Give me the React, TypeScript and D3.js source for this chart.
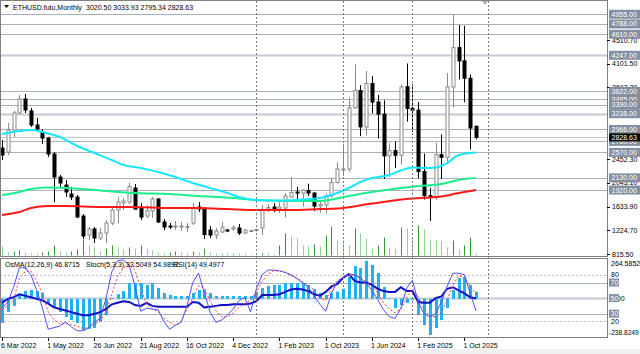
import React from 'react'
import * as d3 from 'd3'

// monthly/weekly OHLC (index 0 = 6 Mar 2022)
const opens = [2646, 2576, 2956, 3250, 3492, 3285, 3043, 2922, 2818, 2542, 2145, 2006, 1851, 1799, 1471, 1143, 1247, 1091, 1178, 1350,
  1575, 1696, 1713, 1955, 1609, 1471, 1560, 1765, 1368, 1298, 1298, 1290, 1281, 1350, 1627, 1592, 1229, 1143, 1195, 1230,
  1247, 1264, 1178, 1212, 1220, 1264, 1592, 1627, 1592, 1609, 1799, 1886, 1868, 1911, 1868, 1644, 1661, 1817, 2050, 2282,
  2283, 3340, 3640, 3010, 3760, 3440, 3230, 2510, 2600, 2520, 3705, 3330, 3300, 2237, 1822, 1794, 2530, 2485, 3700, 4380,
  4150, 3850, 3020.5]
const highs = [2784, 3077, 3285, 3561, 3578, 3336, 3164, 2974, 2836, 2576, 2179, 2093, 1972, 1834, 1506, 1281, 1281, 1264, 1402, 1627,
  1799, 1782, 2041, 2024, 1696, 1661, 1799, 1782, 1419, 1350, 1385, 1368, 1350, 1696, 1713, 1627, 1298, 1264, 1368, 1250,
  1316, 1333, 1247, 1238, 1255, 1661, 1678, 1696, 1747, 1868, 2145, 1972, 1930, 2030, 1886, 1740, 1860, 2135, 2400, 2717,
  3520, 4090, 3730, 3975, 3890, 3560, 3470, 2730, 2760, 3740, 4105, 3745, 3440, 2550, 1955, 2738, 2880, 3940, 4955, 4770,
  4755, 3915, 3033.93]
const lows = [2438, 2525, 2836, 3233, 3250, 3008, 2939, 2715, 2490, 1713, 1972, 1799, 1747, 1437, 1074, 1057, 1005, 1057, 1005, 1316,
  1350, 1575, 1678, 1609, 1402, 1437, 1437, 1350, 1229, 1247, 1229, 1212, 1195, 1316, 1540, 1074, 1091, 1074, 1178, 1195,
  1212, 1143, 1160, 1195, 1203, 1143, 1540, 1540, 1523, 1450, 1782, 1765, 1630, 1817, 1557, 1530, 1520, 1790, 2030, 2165,
  2235, 3325, 2850, 2865, 3240, 2810, 2110, 2150, 2300, 2360, 3100, 2920, 2120, 1755, 1385, 1750, 2110, 2375, 3350, 3830,
  3435, 2620, 2795.34]
const closes = [2525, 2956, 3250, 3492, 3302, 3043, 2974, 2818, 2542, 2145, 2041, 1886, 1799, 1454, 1126, 1247, 1091, 1178, 1350, 1575,
  1713, 1730, 1980, 1590, 1454, 1560, 1765, 1368, 1281, 1290, 1300, 1298, 1290, 1600, 1592, 1150, 1143, 1212, 1281, 1222,
  1272, 1178, 1229, 1220, 1238, 1575, 1618, 1592, 1627, 1817, 1877, 1868, 1920, 1868, 1644, 1671, 1817, 2050, 2282, 2283,
  3340, 3640, 3010, 3760, 3440, 3230, 2510, 2600, 2520, 3700, 3330, 3300, 2237, 1822, 1794, 2530, 2485, 3700, 4380, 4150,
  3850, 2990, 2828.63]
const volumes = [9, 3, 4, 5, 3, 2, 2, 3, 4, 10, 4, 3, 4, 6, 16, 10, 8, 4, 7, 10,
  8, 6, 8, 7, 10, 7, 5, 3, 2, 3, 4, 3, 2, 4, 3, 7, 3, 2, 2, 2,
  2, 2, 2, 1, 1, 2, 2, 1, 10, 22, 19, 17, 10, 9, 11, 9, 20, 29, 15, 15,
  10, 27, 22, 17, 7, 10, 18, 8, 7, 28, 27, 18, 30, 26, 16, 15, 15, 8, 15, 6,
  10, 18, 2]

// moving averages, read at selected bars
const cyanIdx = [0, 3, 5, 7, 10, 13, 16, 19, 21, 24, 27, 30, 33, 36, 39, 41, 44, 48, 52, 55, 57, 60, 62, 64, 67, 69, 71, 73, 75, 77, 79, 82]
const cyanVal = [2887, 2939, 2956, 2922, 2835, 2680, 2559, 2438, 2352, 2300, 2231, 2145, 2041, 1955, 1868, 1799, 1748, 1739, 1756, 1782, 1834, 1955, 2058, 2127, 2179, 2257, 2309, 2300, 2309, 2386, 2525, 2570]
const greenIdx = [0, 3, 5, 8, 11, 17, 23, 29, 34, 40, 44, 50, 55, 60, 64, 69, 72, 76, 79, 82]
const greenVal = [1834, 1886, 1937, 1963, 1955, 1911, 1868, 1851, 1817, 1782, 1748, 1730, 1730, 1817, 1886, 1955, 1989, 2024, 2093, 2130]
const redIdx = [0, 3, 5, 8, 11, 17, 23, 29, 34, 39, 44, 50, 55, 58, 64, 70, 76, 79, 82]
const redVal = [1488, 1540, 1609, 1644, 1644, 1627, 1627, 1609, 1609, 1592, 1575, 1575, 1592, 1601, 1687, 1765, 1808, 1868, 1920]

// oscillators
const osma = [-159, -87, -47, 25, 51, 58, 51, 38, -28, -61, -87, -120, -140, -159, -206, -199, -193, -153, -110, 5,
  30, 50, 104, 104, 104, 91, 104, 71, 38, 25, 18, 18, 18, 38, 58, 58, 38, 18, 18, 18,
  18, 18, 18, 18, 45, 71, 84, 91, 91, 104, 104, 104, 104, 91, 65, 38, 25, 38, 47, 65,
  144, 216, 203, 250, 223, 170, 78, 5, -61, -41, -28, -8, -107, -173, -238, -193, -140, -61, 58, 137,
  144, 91, 46.87]
const stochMain = [37, 45, 64, 89, 89, 80, 60, 37, 10, 12, 14, 19, 13, 8, 8, 12, 19, 24, 50, 84,
  98, 99, 92, 66, 33, 37, 36, 35, 20, 10, 15, 19, 40, 70, 82, 57, 32, 19, 22, 28,
  36, 47, 51, 32, 62, 80, 86, 86, 85, 83, 80, 75, 70, 64, 53, 42, 33, 56, 71, 77,
  81, 80, 76, 69, 60, 48, 35, 26, 24, 37, 63, 73, 45, 30, 26, 30, 45, 65, 82, 82,
  80, 56, 33.5]
const stochSignal = [35, 40, 48, 75, 84, 85, 72, 56, 32, 22, 17, 18, 16, 14, 11, 12, 16, 21, 33, 55,
  78, 89, 93, 86, 62, 42, 36, 33, 24, 19, 15, 20, 35, 50, 66, 63, 46, 34, 26, 26,
  31, 38, 43, 47, 58, 71, 81, 85, 85, 83, 79, 76, 71, 66, 61, 50, 47, 62, 72, 77,
  79, 79, 76, 71, 65, 57, 44, 36, 31, 36, 50, 62, 52, 36, 26, 26, 31, 47, 66, 79,
  76, 65, 55]
const rsi = [44, 49, 51, 55, 53, 51, 49, 47, 43, 38, 36, 34, 32, 30, 28, 28, 30, 32, 36, 42,
  44, 46, 45, 41, 40, 44, 40, 39, 39, 39, 39, 39, 39, 45, 44, 38, 39, 40, 41, 41,
  42, 42, 42, 43, 46, 54, 54, 54, 55, 58, 61, 62, 61, 59, 55, 53, 58, 65, 68, 76,
  81, 72, 70, 70, 67, 62, 59, 58, 58, 64, 59, 59, 45, 44, 44, 50, 52, 62, 64, 60,
  56, 51, 49.5]

const levels = [4955, 4788, 4610, 4247, 3622, 3485, 3390, 3238, 2966, 2760, 2570, 2130, 1920]
const thickLevels = [4247, 3238]
const priceTicks = [4510.7, 4101.5, 3692.3, 2452.3, 2043.1, 1633.9, 1224.7, 815.5]
const timeIdx = [0, 8, 16, 24, 32, 40, 48, 56, 64, 72, 80]
const timeText = ['6 Mar 2022', '1 May 2022', '26 Jun 2022', '21 Aug 2022', '16 Oct 2022', '4 Dec 2022', '1 Feb 2023', '1 Oct 2023', '1 Jun 2024', '1 Feb 2025', '1 Oct 2025']
const separatorIdx = [44, 59, 71, 84]
const lastPrice = 2828.63

const font = 'Liberation Sans, Arial, sans-serif'
const W = 640
const H = 354

export default function App() {
  const x = d3.scaleLinear().domain([0, 82]).range([2, 476])
  const y = d3.scaleLinear().domain([815.5, 4510.7]).range([254, 40])
  const yVol = d3.scaleLinear().domain([0, 30]).range([255.5, 225.5])
  const yOsc = d3.scaleLinear().domain([0, 100]).range([337, 259.2])
  const yOsma = d3.scaleLinear().domain([-238.8249, 264.5852]).range([335, 258.6])

  const maLine = d3.line<[number, number]>()
    .x(d => x(d[0]))
    .y(d => y(d[1]))
    .curve(d3.curveMonotoneX)
  const oscLine = d3.line<number>()
    .x((_, i) => x(i))
    .y(d => yOsc(d))

  const zip = (a: number[], b: number[]) => a.map((v, i) => [v, b[i]] as [number, number])
  const px = (i: number) => Math.round(x(i))

  return (
    <div style={{ position: 'absolute', left: 0, top: 0 }}>
      <svg width={W} height={H} style={{ display: 'block', background: '#fff' }}>
        <defs>
          <clipPath id="mainClip"><rect x={1} y={1} width={606} height={255} /></clipPath>
          <clipPath id="oscClip"><rect x={1} y={259} width={606} height={78} /></clipPath>
        </defs>
        <rect x={0} y={349} width={W} height={5} fill="#f0f0f0" />

        {/* main panel */}
        <g clipPath="url(#mainClip)">
          {levels.map(l => (
            <line key={'lv' + l} x1={0} x2={607} y1={Math.round(y(l)) + 0.5} y2={Math.round(y(l)) + 0.5}
              stroke={thickLevels.includes(l) ? '#c3c9d2' : '#a9b1bd'} strokeWidth={thickLevels.includes(l) ? 2 : 1} />
          ))}
          <line x1={0} x2={607} y1={Math.round(y(lastPrice)) + 0.5} y2={Math.round(y(lastPrice)) + 0.5} stroke="#c8c8c8" />

          {volumes.map((v, i) => (
            <line key={'v' + i} x1={px(i) + 0.5} x2={px(i) + 0.5} y1={yVol(0)} y2={yVol(v)}
              stroke={i > 0 && v > volumes[i - 1] ? '#2e9a2e' : '#8fcf8f'} />
          ))}

          {opens.map((o, i) => {
            const c = closes[i]
            const up = c >= o
            const cx = px(i) + 0.5
            const top = y(Math.max(o, c))
            const bot = y(Math.min(o, c))
            return (
              <g key={'c' + i}>
                <line x1={cx} x2={cx} y1={y(highs[i])} y2={y(lows[i])} stroke={up ? '#8a8a8a' : '#000'} />
                <rect x={cx - 1.5} y={top} width={3} height={Math.max(1, bot - top)}
                  fill={up ? '#fff' : '#000'} stroke={up ? '#8a8a8a' : '#000'} />
              </g>
            )
          })}

          <path d={maLine(zip(redIdx, redVal)) || ''} fill="none" stroke="#ff1a1a" strokeWidth={2} />
          <path d={maLine(zip(greenIdx, greenVal)) || ''} fill="none" stroke="#19f08c" strokeWidth={2} />
          <path d={maLine(zip(cyanIdx, cyanVal)) || ''} fill="none" stroke="#19e6ff" strokeWidth={2} />
        </g>

        {/* oscillator panel */}
        <g clipPath="url(#oscClip)">
          {[80, 20].map(v => (
            <line key={'od' + v} x1={0} x2={607} y1={Math.round(yOsc(v)) + 0.5} y2={Math.round(yOsc(v)) + 0.5}
              stroke="#b8b8b8" strokeDasharray="2,2" />
          ))}
          {[70, 30].map(v => (
            <line key={'os' + v} x1={0} x2={607} y1={Math.round(yOsc(v)) + 0.5} y2={Math.round(yOsc(v)) + 0.5} stroke="#a9b1bd" />
          ))}
          <line x1={0} x2={607} y1={Math.round(yOsc(50)) + 0.5} y2={Math.round(yOsc(50)) + 0.5} stroke="#c3c9d2" strokeWidth={2} />
          {osma.map((v, i) => (
            <rect key={'h' + i} x={px(i) - 1} width={3} y={Math.min(yOsma(0), yOsma(v))}
              height={Math.abs(yOsma(v) - yOsma(0))} fill="#1eb2f0" />
          ))}
          <path d={oscLine(rsi) || ''} fill="none" stroke="#0d10c8" strokeWidth={2} />
          <path d={oscLine(stochSignal) || ''} fill="none" stroke="#ff3c3c" strokeWidth={1} strokeDasharray="2,2" />
          <path d={oscLine(stochMain) || ''} fill="none" stroke="#4f4fff" strokeWidth={1} />
        </g>

        {/* separators */}
        {separatorIdx.map(i => (
          <line key={'s' + i} x1={px(i) + 0.5} x2={px(i) + 0.5} y1={1} y2={337} stroke="#808080" strokeDasharray="2,2" />
        ))}

        {/* frames */}
        <rect x={0.5} y={0.5} width={607} height={256} fill="none" stroke="#808080" />
        <rect x={0.5} y={258.5} width={607} height={79} fill="none" stroke="#808080" />
        <path d="M482,1 L488,1 L485,5 Z" fill="#b0b0b0" />

        {/* headers */}
        <path d="M4,5 L9,5 L6.5,8 Z" fill="#000" />
        <text x={13} y={10} fontSize={7} fontFamily={font} fill="#000">ETHUSD.futu,Monthly</text>
        <text x={86} y={10} fontSize={7} fontFamily={font} fill="#000">3020.50 3033.93 2795.34 2828.63</text>
        <text x={5} y={267} fontSize={7} fontFamily={font} fill="#000">OsMA(12,26,9) 46.8715</text>
        <text x={86} y={267} fontSize={7} fontFamily={font} fill="#000">Stoch(5,3,3) 33.5049 54.9892</text>
        <text x={173} y={267} fontSize={7} fontFamily={font} fill="#000">RSI(14) 49.4977</text>

        {/* price axis */}
        {priceTicks.map(t => (
          <g key={'t' + t}>
            <line x1={607} x2={610} y1={Math.round(y(t)) + 0.5} y2={Math.round(y(t)) + 0.5} stroke="#000" />
            <text x={612} y={y(t) + 2.5} fontSize={7} fontFamily={font} fill="#000">{t.toFixed(2)}</text>
          </g>
        ))}
        {levels.map(l => (
          <g key={'b' + l}>
            <rect x={609} y={y(l) - 4.5} width={31} height={9} fill="#8390a3" />
            <text x={611.5} y={y(l) + 2.5} fontSize={7} fill="#fff" fontFamily={font}>{l.toFixed(2)}</text>
          </g>
        ))}
        <rect x={609} y={y(lastPrice) - 4} width={31} height={8} fill="#000" />
        <text x={611.5} y={y(lastPrice) + 2.5} fontSize={7} fill="#fff" fontFamily={font}>{lastPrice.toFixed(2)}</text>

        {/* oscillator axis */}
        <text x={611} y={265.5} fontSize={7} fontFamily={font} fill="#000">264.5852</text>
        <text x={611} y={yOsc(80) + 2.5} fontSize={7} fontFamily={font} fill="#000">80</text>
        <text x={611} y={yOsma(0) + 2.5} fontSize={7} fontFamily={font} fill="#000">0.00</text>
        {[70, 50, 30].map(v => (
          <g key={'ob' + v}>
            <rect x={609} y={yOsc(v) - 4} width={10} height={8} fill="#8390a3" />
            <text x={610.5} y={yOsc(v) + 2.5} fontSize={7} fill="#fff" fontFamily={font}>{v}</text>
          </g>
        ))}
        <text x={611} y={yOsc(20) + 2.5} fontSize={7} fontFamily={font} fill="#000">20</text>
        <text x={609} y={334.5} fontSize={6.6} fontFamily={font} fill="#000">-238.8249</text>

        {/* time axis */}
        {timeIdx.map((i, k) => (
          <g key={'x' + i}>
            <line x1={px(i) + 0.5} x2={px(i) + 0.5} y1={338} y2={341} stroke="#000" />
            <text x={x(i) - 1} y={348} fontSize={7} fontFamily={font} fill="#000">{timeText[k]}</text>
          </g>
        ))}
      </svg>
    </div>
  )
}
